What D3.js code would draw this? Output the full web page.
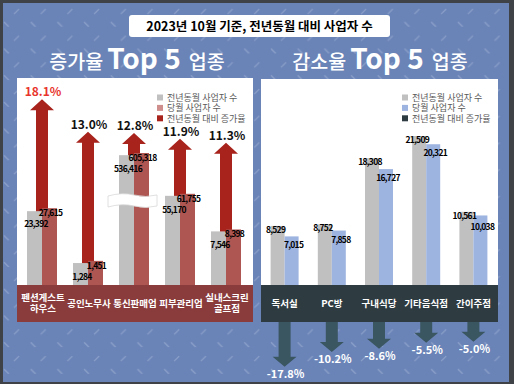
<!DOCTYPE html>
<html>
<head>
<meta charset="utf-8">
<script src="https://cdn.jsdelivr.net/npm/d3@7/dist/d3.min.js"></script>
<style>
  body { margin: 0; padding: 0; background: #fff; }
  svg text { font-family: "Noto Sans CJK KR", "Noto Sans", sans-serif; }
</style>
</head>
<body>
<div id="chart"></div>
<script>
// data
var incCategories = ["펜션게스트\n하우스", "공인노무사", "통신판매업", "피부관리업", "실내스크린\n골프점"];
var incPrev = [23392, 1284, 536416, 55170, 7546];
var incCur = [27615, 1451, 605318, 61755, 8398];
var incRate = [18.1, 13.0, 12.8, 11.9, 11.3];

var decCategories = ["독서실", "PC방", "구내식당", "기타음식점", "간이주점"];
var decPrev = [8529, 8752, 18308, 21509, 10561];
var decCur = [7015, 7858, 16727, 20321, 10038];
var decRate = [-17.8, -10.2, -8.6, -5.5, -5.0];

var incLegend = ["전년동월 사업자 수", "당월 사업자 수", "전년동월 대비 증가율"];
var decLegend = ["전년동월 사업자 수", "당월 사업자 수", "전년동월 대비 증가율"];

var width = 514, height = 384;
var fmt = d3.format(",");

var svg = d3.select("#chart").append("svg")
  .attr("width", width)
  .attr("height", height);

// background + hatch
var defs = svg.append("defs");
var pat = defs.append("pattern")
  .attr("id", "hatch")
  .attr("patternUnits", "userSpaceOnUse")
  .attr("width", 26.7).attr("height", 26.7)
  .attr("x", 3).attr("y", 0);
pat.append("line").attr("x1", 11).attr("y1", 14).attr("x2", 16).attr("y2", 9)
  .attr("stroke", "#fff").attr("stroke-opacity", 0.22).attr("stroke-width", 1.3);
pat.append("line").attr("x1", 1).attr("y1", 22).attr("x2", 6).attr("y2", 27)
  .attr("stroke", "#fff").attr("stroke-opacity", 0.22).attr("stroke-width", 1.3);

svg.append("rect").attr("width", width).attr("height", height).attr("fill", "#3f4247");
svg.append("rect").attr("x", 3).attr("y", 3).attr("width", 506).attr("height", 379).attr("fill", "#6a84b8");
svg.append("rect").attr("x", 3).attr("y", 3).attr("width", 506).attr("height", 379).attr("fill", "url(#hatch)");

// title
svg.append("rect").attr("x", 129).attr("y", 15).attr("width", 261).attr("height", 22)
  .attr("rx", 3).attr("fill", "#fff");
svg.append("text").attr("x", 259.5).attr("y", 30.5)
  .attr("text-anchor", "middle")
  .attr("font-size", 12.5).attr("font-weight", "bold").attr("fill", "#000")
  .text("2023년 10월 기준, 전년동월 대비 사업자 수");

function heading(cx, word) {
  var t = svg.append("text").attr("x", cx).attr("y", 69)
    .attr("text-anchor", "middle").attr("fill", "#fff");
  t.append("tspan").attr("font-size", 19.5).attr("font-weight", 500).text(word);
  t.append("tspan").attr("font-size", 28).attr("font-weight", "bold").attr("dx", 4).text("Top 5");
  t.append("tspan").attr("font-size", 19.5).attr("font-weight", 500).attr("dx", 8).text("업종");
}
heading(137, "증가율");
heading(380, "감소율");

// ---------- left panel ----------
var L = { x0: 17, x1: 253, top: 78, base: 285, bandH: 37 };
svg.append("rect").attr("x", L.x0).attr("y", L.top).attr("width", L.x1 - L.x0).attr("height", L.base - L.top).attr("fill", "#fff");
svg.append("rect").attr("x", L.x0).attr("y", L.base).attr("width", L.x1 - L.x0).attr("height", L.bandH).attr("fill", "#8a3b3b");

var xL = d3.scaleBand().domain(incCategories).range([19, 249]);
var yL = d3.scaleLog().domain([376, 605318]).range([L.base, 153]);
var aL = d3.scaleLinear().domain([0, 20]).range([L.base - 70, L.base - 198]);

var gL = svg.append("g");
incCategories.forEach(function(c, i) {
  var cx = xL(c) + xL.bandwidth() / 2;
  var tip = aL(incRate[i]);
  var hw = 12, sw = 6, hh = 11;
  // arrow
  gL.append("path")
    .attr("d", "M" + (cx - sw) + "," + L.base + "V" + (tip + hh) + "H" + (cx - hw) + "L" + cx + "," + tip +
      "L" + (cx + hw) + "," + (tip + hh) + "H" + (cx + sw) + "V" + L.base + "Z")
    .attr("fill", "#a8231c");
  gL.append("text").attr("x", cx + 1).attr("y", tip - 3)
    .attr("text-anchor", "middle").attr("font-size", 12).attr("font-weight", "bold")
    .attr("fill", i == 0 ? "#e8332c" : "#111")
    .text(incRate[i].toFixed(1) + "%");
  // bars
  gL.append("rect").attr("x", cx - 15).attr("y", yL(incPrev[i])).attr("width", 15)
    .attr("height", L.base - yL(incPrev[i])).attr("fill", "#c0c0c0");
  gL.append("rect").attr("x", cx).attr("y", yL(incCur[i])).attr("width", 15)
    .attr("height", L.base - yL(incCur[i])).attr("fill", "#ae5652");
});
// axis break mark on the large group
(function() {
  var cx = xL(incCategories[2]) + xL.bandwidth() / 2;
  var x0 = cx - 26, x1 = cx + 23, y0 = 195, y1 = 206;
  gL.append("path")
    .attr("d", "M" + x0 + "," + (y0 + 1) + "Q" + (cx - 12) + "," + (y0 - 3) + " " + cx + "," + y0 +
      "T" + x1 + "," + y0 + "L" + x1 + "," + y1 + "Q" + (cx + 12) + "," + (y1 + 3) + " " + cx + "," + y1 +
      "T" + x0 + "," + (y1 + 1) + "Z")
    .attr("fill", "#fff").attr("stroke", "#d8d8d8").attr("stroke-width", 0.8);
})();
// value labels
incCategories.forEach(function(c, i) {
  var cx = xL(c) + xL.bandwidth() / 2;
  var curY = yL(incCur[i]) + 8;
  var prevY = Math.max(yL(incPrev[i]) + 8, curY + 11);
  gL.append("text").attr("x", cx + 8.5).attr("y", curY)
    .attr("text-anchor", "middle").attr("font-size", 8.5).attr("font-weight", 600).attr("letter-spacing", -0.7)
    .attr("fill", "#000").text(fmt(incCur[i]));
  gL.append("text").attr("x", cx - 6).attr("y", prevY)
    .attr("text-anchor", "middle").attr("font-size", 8.5).attr("font-weight", 600).attr("letter-spacing", -0.7)
    .attr("fill", "#000").text(fmt(incPrev[i]));
  var lines = c.split("\n");
  var t = gL.append("text").attr("text-anchor", "middle").attr("font-size", 9.5)
    .attr("font-weight", "bold").attr("fill", "#fff");
  lines.forEach(function(s, k) {
    t.append("tspan").attr("x", cx + 1)
      .attr("y", L.base + 18.5 + (k - (lines.length - 1) / 2) * 11.5 + 3)
      .text(s);
  });
});

// ---------- right panel ----------
var R = { x0: 261, x1: 498, top: 79, base: 285, bandH: 37 };
svg.append("rect").attr("x", R.x0).attr("y", R.top).attr("width", R.x1 - R.x0).attr("height", R.base - R.top).attr("fill", "#fff");
svg.append("rect").attr("x", R.x0).attr("y", R.base).attr("width", R.x1 - R.x0).attr("height", R.bandH).attr("fill", "#2e3c42");

var xR = d3.scaleBand().domain(decCategories).range([R.x0, R.x1 - 1]);
var yR = d3.scaleLinear().domain([0, 21509]).range([R.base, 136]);
var aR = d3.scaleLinear().domain([0, 17.8]).range([10, 44.7]);

var gR = svg.append("g");
decCategories.forEach(function(c, i) {
  var cx = xR(c) + xR.bandwidth() / 2;
  gR.append("rect").attr("x", cx - 14).attr("y", yR(decPrev[i])).attr("width", 14)
    .attr("height", R.base - yR(decPrev[i])).attr("fill", "#c0c0c0");
  gR.append("rect").attr("x", cx).attr("y", yR(decCur[i])).attr("width", 14)
    .attr("height", R.base - yR(decCur[i])).attr("fill", "#9db3e0");
  var prevY = yR(decPrev[i]) + 7;
  var curY = Math.max(yR(decCur[i]) + 12, prevY + 11);
  gR.append("text").attr("x", cx - 9).attr("y", prevY)
    .attr("text-anchor", "middle").attr("font-size", 8.5).attr("font-weight", 600).attr("letter-spacing", -0.7)
    .attr("fill", "#000").text(fmt(decPrev[i]));
  gR.append("text").attr("x", cx + 9).attr("y", curY)
    .attr("text-anchor", "middle").attr("font-size", 8.5).attr("font-weight", 600).attr("letter-spacing", -0.7)
    .attr("fill", "#000").text(fmt(decCur[i]));
  gR.append("text").attr("x", cx).attr("y", R.base + 21.5)
    .attr("text-anchor", "middle").attr("font-size", 9.5).attr("font-weight", "bold")
    .attr("fill", "#fff").text(c);
  // down arrow
  var top = R.base + R.bandH, tip = top + aR(Math.abs(decRate[i]));
  var hw = 12, sw = 6, hh = 10;
  gR.append("path")
    .attr("d", "M" + (cx - sw) + "," + top + "V" + (tip - hh) + "H" + (cx - hw) + "L" + cx + "," + tip +
      "L" + (cx + hw) + "," + (tip - hh) + "H" + (cx + sw) + "V" + top + "Z")
    .attr("fill", "#3a5660");
  gR.append("text").attr("x", cx + 1).attr("y", tip + 11)
    .attr("text-anchor", "middle").attr("font-size", 11).attr("font-weight", "bold")
    .attr("fill", "#fff").text(decRate[i].toFixed(1) + "%");
});

// legends
function legend(x, labels, colors) {
  labels.forEach(function(s, k) {
    var y = 97.5 + k * 10.4;
    svg.append("rect").attr("x", x).attr("y", y - 3).attr("width", 6).attr("height", 6).attr("fill", colors[k]);
    svg.append("text").attr("x", x + 10).attr("y", y + 3.5)
      .attr("font-size", 9).attr("fill", "#595959").text(s);
  });
}
legend(157, incLegend, ["#c0c0c0", "#cf8f8c", "#a8231c"]);
legend(402, decLegend, ["#c0c0c0", "#9db3e0", "#2e3c42"]);
</script>
</body>
</html>
